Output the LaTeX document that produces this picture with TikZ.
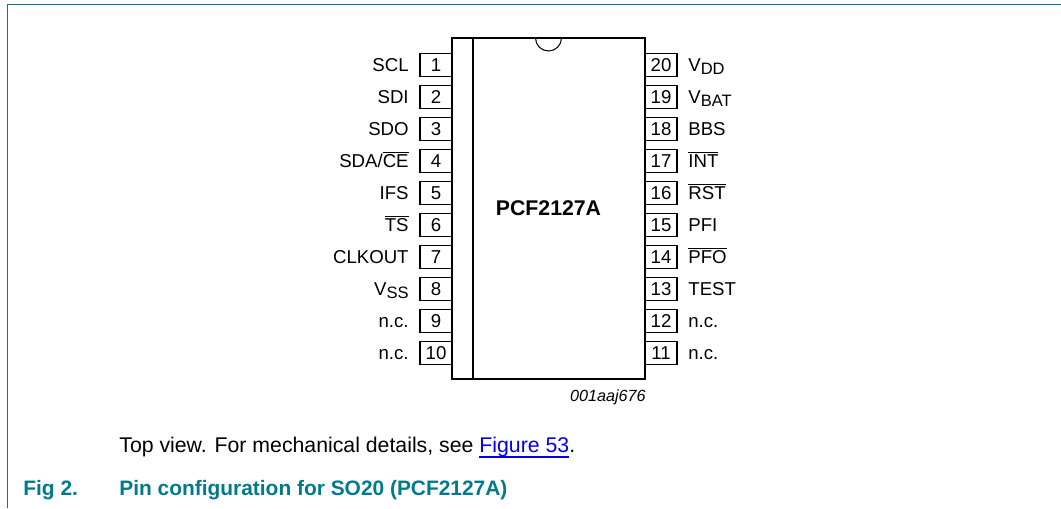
\documentclass[tikz,border=0pt]{standalone}
\usepackage{fontspec}
\setmainfont{Liberation Sans}
\usepackage{xcolor}
\usetikzlibrary{positioning}
\definecolor{nxpteal}{RGB}{0,122,140}
\definecolor{linkblue}{RGB}{0,0,238}
\newcommand{\ovl}[1]{\ensuremath{\overline{\mbox{#1}}}}
\newcommand{\vsub}[1]{V\raisebox{-.35ex}{\fontsize{9.4}{11}\selectfont #1}}
\newcommand{\lnk}[1]{\setbox0\hbox{#1}\rlap{\rule[-2.6pt]{\wd0}{.8pt}}\box0}
\tikzset{
  pinbox/.style={draw,line width=.6pt,inner sep=0pt,minimum width=.64cm,minimum height=.47cm,font=\fontsize{10.6}{12}\selectfont},
  pinlabel/.style={inner sep=0pt,text height=.30cm,text depth=.04cm,font=\fontsize{10.6}{12}\selectfont},
  chipbox/.style={draw,fill=white,line width=1.3pt,inner sep=0pt,minimum width=3.86cm,minimum height=6.82cm,font=\fontsize{12.1}{14}\selectfont\bfseries},
  frameline/.style={nxpteal,line width=.55pt}
}
\begin{document}
\begin{tikzpicture}
        \useasboundingbox (0,0) rectangle (21.22,10.16);

        % frame
        \coordinate (fa) at (.14,0);
        \coordinate (fb) at (.14,10.07);
        \coordinate (fc) at (21.22,10.07);
        \draw[frameline] (fa) -- (fb) -- (fc);

        % left pins
        \node[pinbox] (p1) at (8.72,8.86) {1};
        \node[pinbox] (p2) at (8.72,8.22) {2};
        \node[pinbox] (p3) at (8.72,7.58) {3};
        \node[pinbox] (p4) at (8.72,6.94) {4};
        \node[pinbox] (p5) at (8.72,6.30) {5};
        \node[pinbox] (p6) at (8.72,5.66) {6};
        \node[pinbox] (p7) at (8.72,5.02) {7};
        \node[pinbox] (p8) at (8.72,4.38) {8};
        \node[pinbox] (p9) at (8.72,3.74) {9};
        \node[pinbox] (p10) at (8.72,3.10) {10};

        % right pins
        \node[pinbox] (p20) at (13.22,8.86) {20};
        \node[pinbox] (p19) at (13.22,8.22) {19};
        \node[pinbox] (p18) at (13.22,7.58) {18};
        \node[pinbox] (p17) at (13.22,6.94) {17};
        \node[pinbox] (p16) at (13.22,6.30) {16};
        \node[pinbox] (p15) at (13.22,5.66) {15};
        \node[pinbox] (p14) at (13.22,5.02) {14};
        \node[pinbox] (p13) at (13.22,4.38) {13};
        \node[pinbox] (p12) at (13.22,3.74) {12};
        \node[pinbox] (p11) at (13.22,3.10) {11};

        % package
        \node[chipbox] (chip) at (10.97,5.99) {PCF2127A};
        \coordinate (ledgetop) at (9.46,9.40);
        \coordinate (ledgebot) at (9.46,2.58);
        \draw[line width=.6pt] (ledgetop) -- (ledgebot);
        \coordinate (notch) at (10.71,9.40);
        \draw[line width=.6pt] (notch) arc (180:360:.26);

        % left labels
        \node[pinlabel,left=.21 of p1] (l1) {SCL};
        \node[pinlabel,left=.21 of p2] (l2) {SDI};
        \node[pinlabel,left=.21 of p3] (l3) {SDO};
        \node[pinlabel,left=.21 of p4] (l4) {SDA/\ovl{CE}};
        \node[pinlabel,left=.21 of p5] (l5) {IFS};
        \node[pinlabel,left=.21 of p6] (l6) {\ovl{TS}};
        \node[pinlabel,left=.21 of p7] (l7) {CLKOUT};
        \node[pinlabel,left=.21 of p8] (l8) {\vsub{SS}};
        \node[pinlabel,left=.21 of p9] (l9) {n.c.};
        \node[pinlabel,left=.21 of p10] (l10) {n.c.};

        % right labels
        \node[pinlabel,right=.21 of p20] (l20) {\vsub{DD}};
        \node[pinlabel,right=.21 of p19] (l19) {\vsub{BAT}};
        \node[pinlabel,right=.21 of p18] (l18) {BBS};
        \node[pinlabel,right=.21 of p17] (l17) {\ovl{INT}};
        \node[pinlabel,right=.21 of p16] (l16) {\ovl{RST}};
        \node[pinlabel,right=.21 of p15] (l15) {PFI};
        \node[pinlabel,right=.21 of p14] (l14) {\ovl{PFO}};
        \node[pinlabel,right=.21 of p13] (l13) {TEST};
        \node[pinlabel,right=.21 of p12] (l12) {n.c.};
        \node[pinlabel,right=.21 of p11] (l11) {n.c.};

        % captions
        \node[anchor=base east,inner sep=0pt,font=\fontsize{9.2}{11}\selectfont\itshape] (code) at (12.92,2.14) {001aaj676};
        \node[anchor=base west,inner sep=0pt,font=\fontsize{12.1}{14}\selectfont] (note) at (2.38,1.10) {Top view. For mechanical details, see \textcolor{linkblue}{\lnk{Figure 53}}.};
        \node[anchor=base west,inner sep=0pt,text=nxpteal,font=\fontsize{11.9}{14}\selectfont\bfseries] (fignum) at (.46,.26) {Fig 2.};
        \node[anchor=base west,inner sep=0pt,text=nxpteal,font=\fontsize{11.9}{14}\selectfont\bfseries] (figtitle) at (2.38,.26) {Pin configuration for SO20 (PCF2127A)};
      \end{tikzpicture}
\end{document}
